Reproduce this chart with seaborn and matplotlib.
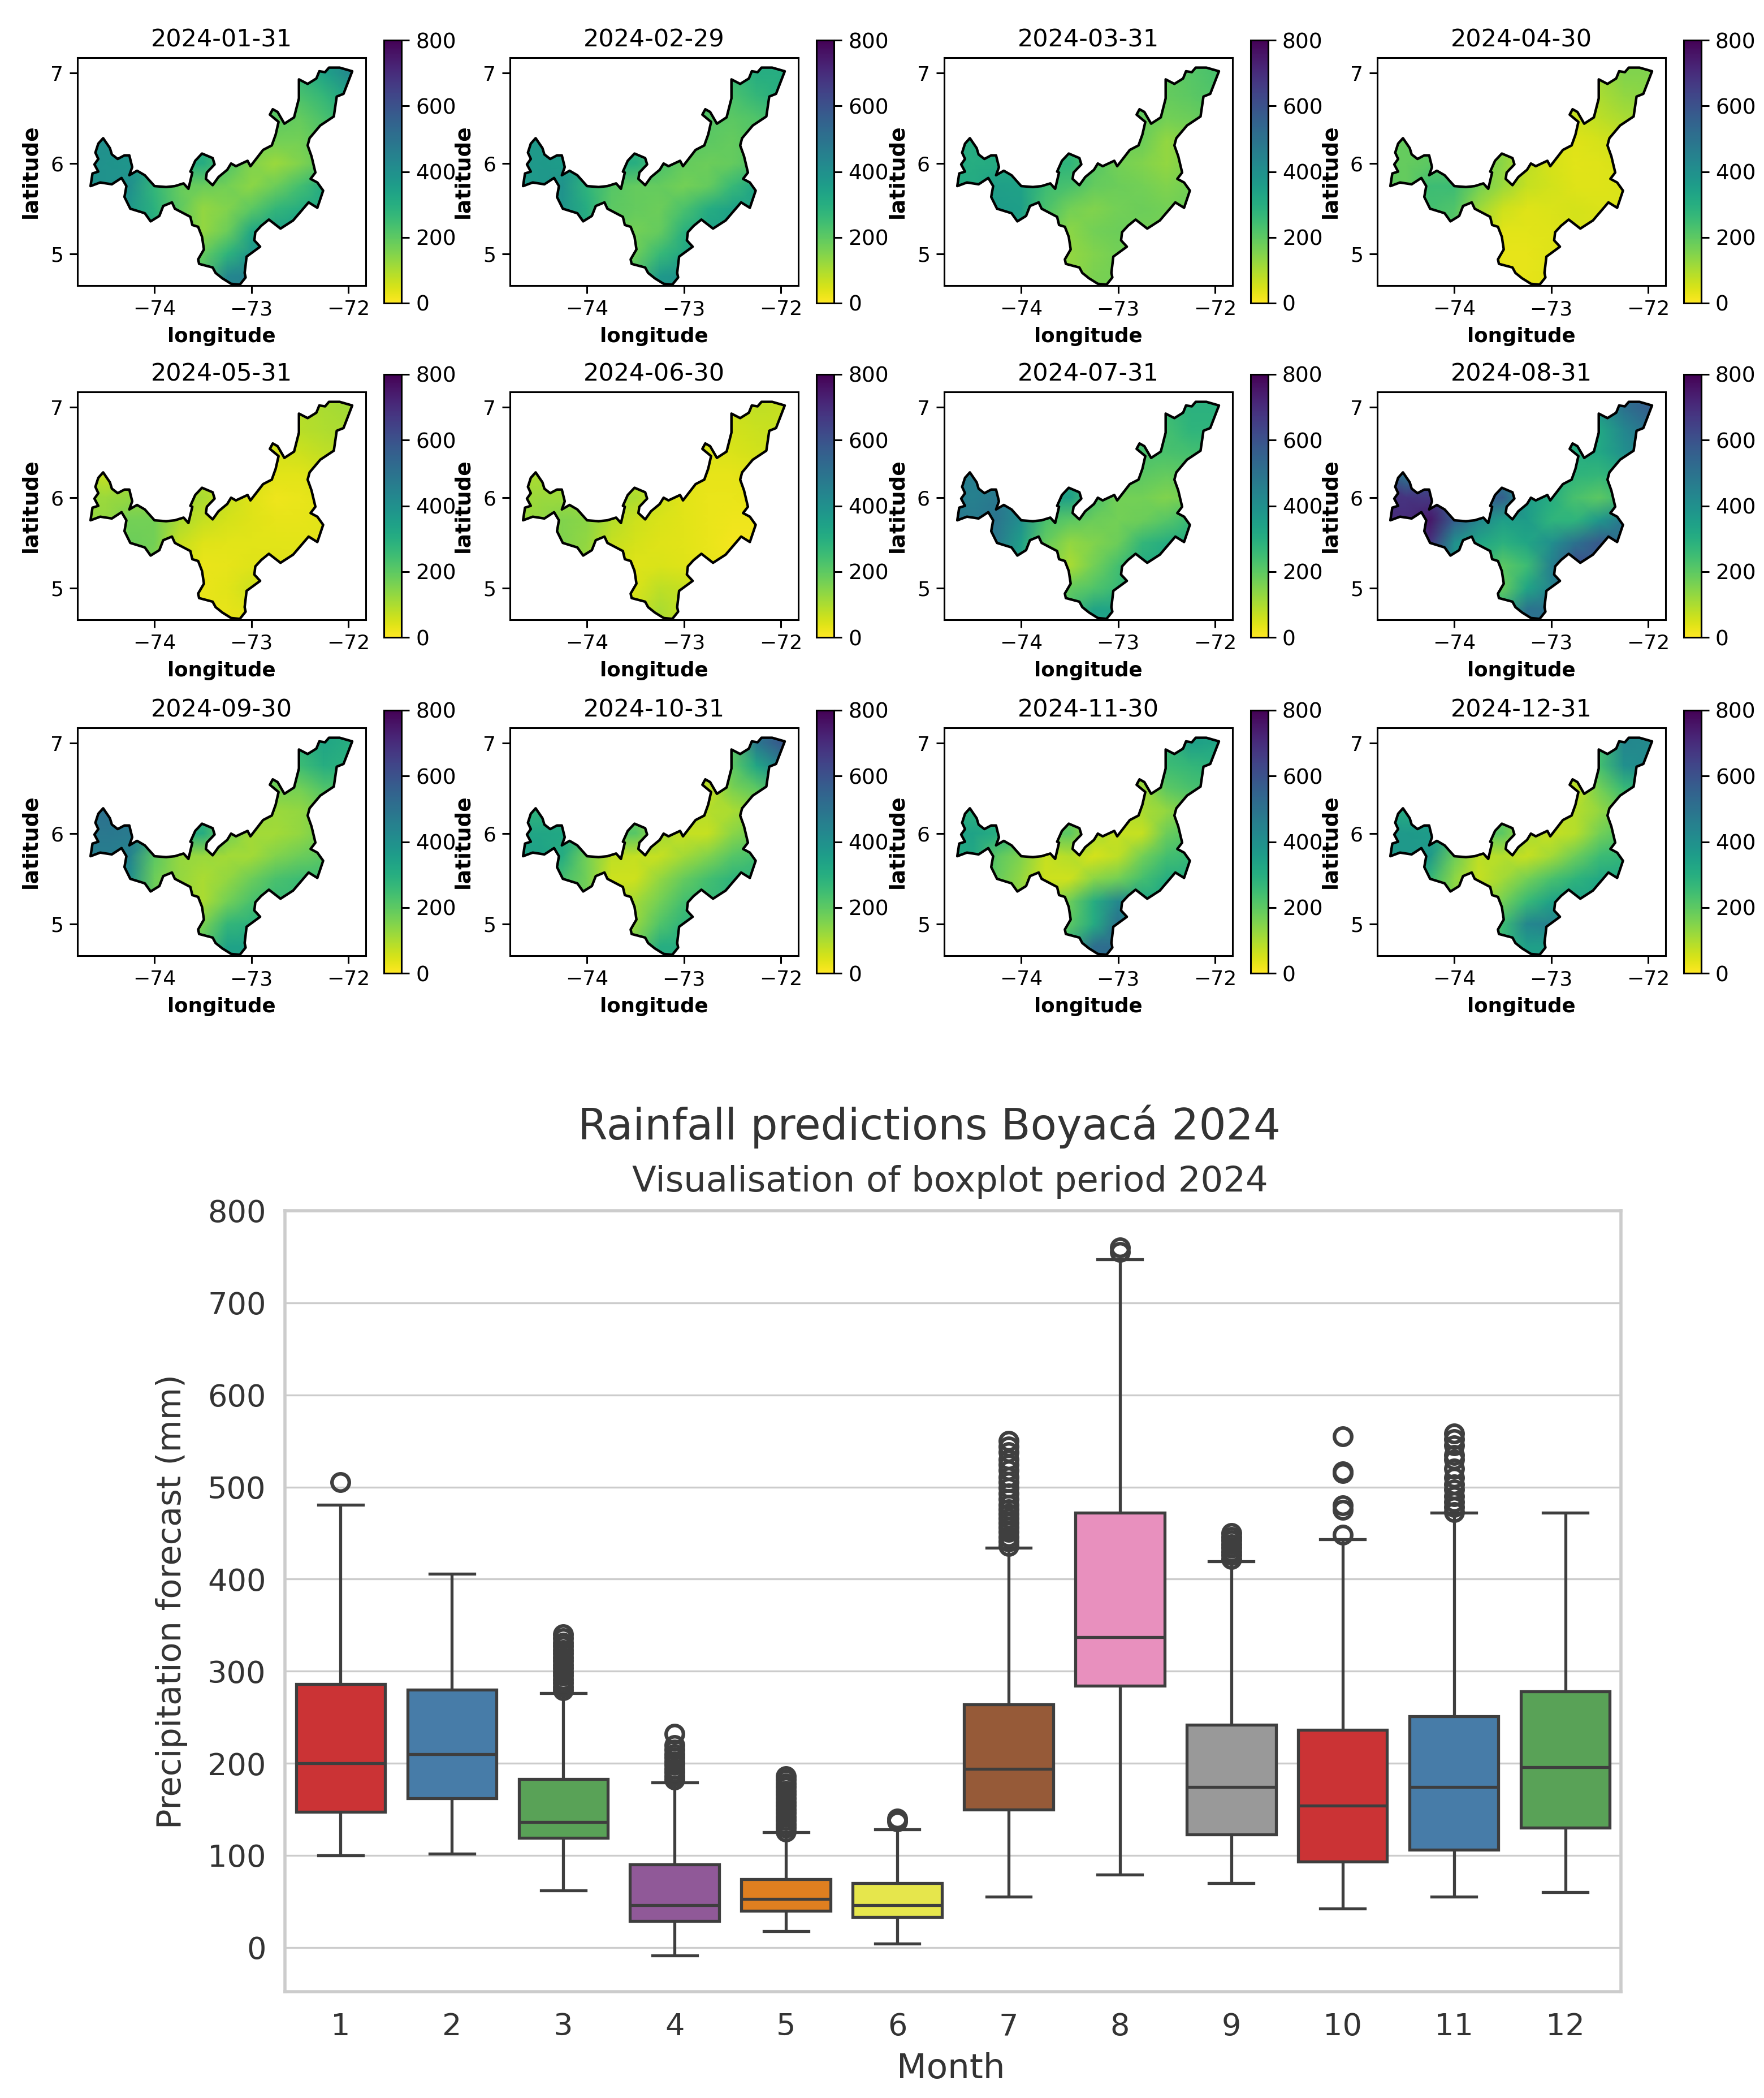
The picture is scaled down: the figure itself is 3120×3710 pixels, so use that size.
import numpy as np
import pandas as pd
import seaborn as sns
import matplotlib.pyplot as plt
from matplotlib.patches import Polygon

# Tamanho final em pixels
W, H = 3120, 3710

fechas = ['2024-01-31', '2024-02-29', '2024-03-31', '2024-04-30', '2024-05-31', '2024-06-30',
          '2024-07-31', '2024-08-31', '2024-09-30', '2024-10-31', '2024-11-30', '2024-12-31']

# Contorno de Boyaca
borde_lon = [-74.66, -74.64, -74.58, -74.62, -74.58, -74.61, -74.58, -74.53, -74.46, -74.44, -74.38, -74.31,
             -74.26, -74.23, -74.26, -74.18, -74.10, -74.00, -73.88, -73.79, -73.70, -73.65, -73.61, -73.63,
             -73.58, -73.51, -73.40, -73.38, -73.46, -73.47, -73.40, -73.34, -73.25, -73.21, -73.16, -73.04,
             -73.01, -72.88, -72.79, -72.75, -72.72, -72.81, -72.78, -72.73, -72.66, -72.56, -72.51, -72.51,
             -72.42, -72.33, -72.30, -72.24, -72.20, -72.09, -71.96, -72.05, -72.12, -72.15, -72.29, -72.40,
             -72.42, -72.38, -72.34, -72.39, -72.32, -72.26, -72.32, -72.41, -72.57, -72.70, -72.82, -72.90,
             -72.96, -72.97, -72.91, -73.05, -73.07, -73.06, -73.12, -73.21, -73.30, -73.37, -73.40, -73.54,
             -73.55, -73.49, -73.51, -73.55, -73.61, -73.63, -73.79, -73.82, -73.91, -73.95, -74.04, -74.10,
             -74.25, -74.31, -74.29, -74.34, -74.44, -74.56]
borde_lat = [5.75, 5.89, 5.91, 5.99, 6.05, 6.12, 6.22, 6.28, 6.17, 6.10, 6.05, 6.09,
             6.09, 5.96, 5.87, 5.92, 5.87, 5.75, 5.74, 5.75, 5.78, 5.72, 5.90, 5.91,
             6.03, 6.11, 6.06, 5.99, 5.90, 5.83, 5.76, 5.85, 5.93, 6.00, 5.97, 6.03,
             5.97, 6.15, 6.20, 6.32, 6.46, 6.54, 6.60, 6.57, 6.44, 6.51, 6.72, 6.93,
             6.88, 6.94, 7.02, 7.01, 7.06, 7.06, 7.02, 6.77, 6.74, 6.52, 6.42, 6.28,
             6.20, 6.08, 5.90, 5.83, 5.79, 5.70, 5.51, 5.57, 5.37, 5.28, 5.38, 5.31,
             5.24, 5.15, 5.08, 4.97, 4.79, 4.74, 4.66, 4.67, 4.73, 4.79, 4.85, 4.89,
             4.94, 5.05, 5.19, 5.30, 5.32, 5.41, 5.50, 5.57, 5.53, 5.42, 5.36, 5.45,
             5.50, 5.63, 5.75, 5.84, 5.77, 5.79]

lon_malla = [-74.75, -74.5, -74.25, -74.0, -73.75, -73.5, -73.25, -73.0, -72.75, -72.5, -72.25, -72.0]
lat_malla = [7.0, 6.75, 6.5, 6.25, 6.0, 5.75, 5.5, 5.25, 5.0, 4.75]

ene = [[380, 380, 380, 300, 250, 220, 220, 220, 230, 270, 340, 420],
       [390, 390, 380, 300, 250, 220, 220, 220, 220, 230, 270, 340],
       [400, 400, 380, 300, 250, 220, 210, 200, 200, 190, 230, 280],
       [400, 400, 390, 320, 280, 280, 220, 170, 170, 170, 200, 220],
       [400, 390, 380, 340, 300, 310, 220, 150, 120, 150, 200, 220],
       [400, 390, 400, 270, 190, 180, 170, 140, 180, 240, 310, 320],
       [400, 400, 370, 290, 200, 130, 150, 200, 270, 300, 320, 320],
       [380, 380, 350, 300, 200, 130, 180, 320, 350, 340, 330, 320],
       [380, 380, 350, 300, 200, 190, 280, 380, 360, 340, 330, 320],
       [380, 380, 350, 300, 200, 230, 430, 450, 360, 340, 330, 320]]
feb = [[360, 360, 360, 280, 250, 230, 230, 230, 230, 260, 300, 300],
       [370, 370, 360, 280, 250, 230, 230, 230, 230, 230, 270, 300],
       [370, 370, 360, 290, 250, 230, 230, 220, 210, 200, 220, 250],
       [370, 370, 370, 310, 280, 270, 240, 210, 200, 190, 210, 220],
       [370, 370, 360, 330, 300, 300, 230, 190, 180, 190, 220, 230],
       [370, 370, 390, 280, 210, 190, 190, 170, 190, 260, 330, 340],
       [370, 370, 380, 300, 200, 190, 180, 230, 300, 340, 340, 340],
       [370, 370, 350, 300, 200, 170, 190, 290, 340, 340, 340, 340],
       [370, 370, 350, 300, 200, 180, 260, 320, 340, 340, 340, 340],
       [370, 370, 350, 300, 200, 230, 370, 390, 340, 340, 340, 340]]
mar = [[300, 300, 300, 260, 230, 200, 200, 200, 200, 190, 210, 230],
       [300, 300, 300, 260, 230, 200, 200, 200, 200, 190, 200, 220],
       [300, 300, 300, 280, 240, 210, 200, 190, 190, 170, 180, 200],
       [300, 300, 310, 300, 260, 250, 210, 180, 180, 130, 150, 170],
       [310, 300, 310, 320, 280, 280, 210, 170, 150, 130, 160, 170],
       [310, 310, 350, 340, 250, 230, 190, 180, 170, 150, 170, 180],
       [310, 310, 360, 350, 230, 170, 150, 170, 180, 170, 180, 180],
       [310, 310, 340, 320, 200, 140, 170, 180, 170, 170, 180, 180],
       [310, 310, 340, 320, 200, 130, 150, 170, 170, 170, 180, 180],
       [310, 310, 340, 320, 200, 130, 160, 170, 170, 170, 180, 180]]
abr = [[180, 180, 180, 160, 130, 100, 100, 100, 110, 110, 150, 150],
       [180, 180, 180, 160, 130, 100, 100, 100, 100, 100, 130, 140],
       [190, 190, 190, 170, 130, 110, 90, 80, 60, 80, 100, 110],
       [190, 190, 190, 190, 150, 130, 90, 50, 40, 50, 60, 70],
       [190, 190, 200, 200, 170, 140, 80, 50, 35, 40, 50, 60],
       [200, 190, 250, 250, 170, 120, 70, 55, 40, 40, 45, 50],
       [200, 200, 240, 220, 120, 60, 40, 45, 50, 45, 45, 50],
       [200, 200, 220, 200, 100, 35, 35, 40, 50, 45, 45, 50],
       [200, 200, 220, 200, 100, 30, 30, 40, 50, 45, 45, 50],
       [200, 200, 220, 200, 100, 30, 30, 40, 50, 45, 45, 50]]
may = [[110, 110, 110, 100, 80, 70, 70, 70, 80, 90, 100, 110],
       [110, 110, 110, 100, 80, 70, 70, 70, 70, 85, 95, 100],
       [110, 110, 110, 100, 80, 70, 60, 60, 50, 60, 75, 85],
       [90, 70, 110, 110, 90, 80, 60, 50, 35, 35, 50, 60],
       [120, 120, 130, 130, 110, 100, 70, 40, 20, 25, 40, 50],
       [120, 130, 170, 170, 100, 70, 50, 40, 30, 30, 35, 40],
       [130, 140, 180, 170, 70, 40, 35, 35, 35, 35, 35, 40],
       [130, 140, 170, 150, 60, 25, 30, 40, 40, 40, 40, 40],
       [130, 140, 170, 150, 60, 25, 35, 60, 40, 40, 40, 40],
       [130, 140, 170, 150, 60, 30, 30, 40, 40, 40, 40, 40]]
jun = [[90, 90, 90, 80, 70, 60, 60, 60, 60, 65, 75, 70],
       [90, 90, 90, 80, 70, 60, 60, 60, 60, 55, 65, 70],
       [90, 90, 90, 90, 70, 60, 55, 50, 45, 45, 55, 60],
       [100, 100, 100, 100, 80, 70, 50, 40, 30, 30, 40, 45],
       [110, 120, 120, 120, 100, 100, 60, 35, 25, 25, 30, 35],
       [120, 130, 150, 140, 90, 60, 45, 35, 25, 20, 20, 25],
       [120, 130, 150, 130, 70, 50, 40, 35, 25, 15, 15, 20],
       [120, 130, 150, 120, 60, 40, 45, 40, 30, 20, 20, 20],
       [120, 130, 150, 120, 60, 45, 80, 70, 30, 20, 20, 20],
       [120, 130, 150, 120, 60, 60, 100, 70, 30, 20, 20, 20]]
jul = [[430, 430, 430, 330, 280, 250, 250, 250, 260, 260, 290, 290],
       [430, 430, 430, 330, 280, 250, 250, 250, 250, 240, 280, 280],
       [440, 440, 430, 340, 290, 260, 250, 240, 230, 230, 240, 250],
       [450, 460, 450, 380, 320, 300, 250, 210, 200, 190, 200, 220],
       [470, 450, 480, 410, 340, 350, 230, 170, 170, 150, 170, 200],
       [480, 470, 490, 400, 230, 200, 180, 170, 180, 210, 260, 270],
       [480, 480, 470, 350, 190, 130, 150, 180, 270, 300, 310, 310],
       [480, 480, 460, 330, 170, 100, 170, 240, 310, 320, 320, 320],
       [480, 480, 460, 330, 170, 190, 220, 260, 310, 320, 320, 320],
       [480, 480, 460, 330, 170, 240, 340, 340, 310, 320, 320, 320]]
ago = [[650, 650, 600, 450, 350, 300, 300, 300, 320, 400, 500, 560],
       [650, 650, 600, 450, 350, 300, 300, 300, 310, 320, 430, 500],
       [650, 640, 600, 470, 380, 320, 300, 300, 300, 320, 400, 450],
       [680, 480, 600, 520, 450, 420, 340, 300, 280, 270, 300, 320],
       [690, 680, 670, 600, 560, 560, 360, 300, 230, 200, 260, 300],
       [700, 700, 750, 560, 430, 350, 360, 280, 280, 380, 480, 480],
       [700, 700, 680, 400, 330, 290, 330, 400, 500, 580, 500, 480],
       [680, 680, 640, 380, 300, 200, 250, 450, 620, 560, 500, 480],
       [680, 680, 640, 380, 300, 190, 330, 440, 540, 500, 480, 480],
       [680, 680, 640, 380, 300, 300, 500, 500, 500, 480, 480, 480]]
sep = [[480, 480, 450, 300, 230, 200, 200, 200, 220, 280, 330, 300],
       [480, 480, 450, 300, 230, 200, 200, 200, 210, 250, 300, 290],
       [480, 480, 450, 310, 240, 200, 190, 180, 170, 170, 220, 240],
       [490, 500, 460, 340, 260, 250, 180, 140, 120, 130, 160, 180],
       [480, 480, 470, 380, 300, 310, 170, 110, 110, 130, 170, 190],
       [450, 460, 440, 200, 130, 120, 110, 110, 150, 180, 200, 210],
       [450, 460, 400, 180, 130, 100, 130, 180, 230, 250, 250, 250],
       [430, 430, 380, 180, 120, 100, 170, 230, 260, 250, 250, 250],
       [430, 430, 380, 180, 120, 160, 270, 290, 260, 250, 250, 250],
       [430, 430, 380, 180, 120, 220, 340, 340, 260, 250, 250, 250]]
oct_ = [[300, 300, 290, 230, 170, 130, 130, 130, 140, 200, 480, 580],
        [300, 300, 290, 230, 170, 130, 130, 130, 140, 200, 330, 450],
        [300, 300, 290, 230, 170, 130, 110, 90, 70, 160, 200, 280],
        [280, 280, 290, 240, 190, 180, 110, 90, 90, 100, 130, 170],
        [330, 330, 320, 280, 210, 210, 110, 70, 70, 140, 180, 200],
        [330, 340, 300, 170, 80, 70, 70, 110, 150, 210, 240, 250],
        [320, 320, 240, 170, 60, 60, 130, 190, 240, 280, 280, 280],
        [310, 310, 220, 170, 70, 110, 170, 240, 260, 280, 280, 280],
        [310, 310, 220, 170, 90, 130, 220, 280, 260, 280, 280, 280],
        [310, 310, 220, 170, 100, 180, 300, 300, 260, 280, 280, 280]]
nov = [[320, 320, 290, 220, 170, 130, 130, 130, 170, 250, 350, 330],
       [320, 320, 290, 220, 170, 130, 130, 130, 170, 250, 270, 290],
       [320, 320, 290, 230, 170, 140, 130, 110, 110, 200, 230, 240],
       [300, 290, 280, 240, 190, 170, 110, 90, 100, 130, 170, 190],
       [320, 340, 300, 260, 200, 200, 100, 70, 70, 180, 220, 240],
       [310, 320, 200, 150, 70, 90, 50, 80, 170, 240, 260, 270],
       [300, 300, 190, 130, 60, 60, 140, 170, 240, 300, 300, 300],
       [300, 300, 190, 130, 90, 180, 300, 430, 330, 300, 300, 300],
       [300, 300, 190, 130, 100, 200, 310, 500, 340, 300, 300, 300],
       [300, 300, 190, 130, 100, 300, 510, 520, 340, 300, 300, 300]]
dic = [[360, 360, 330, 240, 170, 130, 130, 130, 150, 240, 430, 420],
       [360, 360, 330, 240, 170, 130, 130, 130, 150, 240, 400, 420],
       [360, 360, 330, 250, 170, 130, 120, 90, 70, 170, 260, 300],
       [340, 300, 340, 270, 200, 180, 120, 80, 90, 130, 170, 200],
       [370, 370, 360, 300, 210, 200, 100, 70, 90, 170, 220, 240],
       [370, 370, 370, 180, 80, 90, 70, 110, 180, 250, 270, 280],
       [370, 370, 270, 140, 70, 110, 170, 230, 280, 320, 320, 320],
       [360, 360, 260, 140, 100, 170, 260, 340, 350, 320, 320, 320],
       [360, 360, 260, 140, 120, 250, 430, 450, 350, 320, 320, 320],
       [360, 360, 260, 140, 120, 280, 350, 350, 350, 320, 320, 320]]
mapas = [ene, feb, mar, abr, may, jun, jul, ago, sep, oct_, nov, dic]

# Cajas: minimo, q1, mediana, q3, maximo
meses = [1, 2, 3, 4, 5, 6, 7, 8, 9, 10, 11, 12]
minimo = [100, 102, 62, -9, 18, 4, 55, 79, 70, 42, 55, 60]
q1 = [147.5, 162, 119, 29, 40, 33, 150, 284, 123, 93, 106, 130]
mediana = [200, 210, 136, 46, 53, 46, 194, 337, 174, 154, 174, 196]
q3 = [286, 280, 183, 90, 74, 70, 264, 472, 242, 236, 251, 278]
maximo = [481, 406, 276, 179, 125, 128, 434, 747, 419, 443, 472, 472]

atipicos = {
    1: [505],
    3: [279, 283, 287, 291, 295, 299, 303, 307, 311, 315, 319, 323, 327, 331, 336, 340],
    4: [182, 186, 190, 194, 198, 202, 206, 210, 215, 220, 232],
    5: [126, 130, 134, 138, 142, 146, 150, 154, 158, 162, 166, 170, 174, 178, 182, 186],
    6: [137, 140],
    7: [436, 441, 446, 451, 456, 461, 466, 471, 476, 481, 487, 493, 499, 505, 511, 518, 524, 530, 538, 544, 550],
    8: [755, 760],
    9: [422, 426, 430, 434, 438, 442, 446, 450],
    10: [448, 475, 480, 515, 517, 555],
    11: [473, 478, 484, 490, 497, 503, 510, 520, 530, 535, 545, 552, 558],
}


def caja(x, y, w, h):
    # convierte pixeles (desde arriba) a fraccion de la figura
    return [x / W, 1 - (y + h) / H, w / W, h / H]


fig = plt.figure(figsize=(W / 100, H / 100), dpi=100, facecolor='white')

col_x = [137, 902, 1670, 2436]
fila_y = [102, 693, 1287]
lon_ext = np.r_[-75.0, lon_malla, -71.75]
lat_ext = np.r_[7.25, lat_malla, 4.5]

for i, fecha in enumerate(fechas):
    x0 = col_x[i % 4]
    y0 = fila_y[i // 4]
    ax = fig.add_axes(caja(x0, y0, 510, 403))
    z = np.pad(np.array(mapas[i], dtype=float), 1, mode='edge')
    malla = ax.pcolormesh(lon_ext, lat_ext, z, cmap='viridis_r', vmin=0, vmax=800, shading='gouraud')
    recorte = Polygon(np.column_stack([borde_lon, borde_lat]), closed=True, transform=ax.transData,
                      facecolor='none', edgecolor='black', linewidth=3.2, joinstyle='round')
    ax.add_patch(recorte)
    malla.set_clip_path(recorte)
    ax.set_xlim(-74.795, -71.82)
    ax.set_ylim(4.65, 7.17)
    ax.set_xticks([-74, -73, -72])
    ax.set_yticks([5, 6, 7])
    ax.tick_params(labelsize=26, length=10, width=2.2, pad=8)
    for lado in ax.spines.values():
        lado.set_linewidth(2.2)
    ax.set_title(fecha, fontsize=31, pad=14)
    ax.set_xlabel('longitude', fontsize=25.6, fontweight='bold', labelpad=10)
    ax.set_ylabel('latitude', fontsize=27, fontweight='bold', labelpad=12)
    cax = fig.add_axes(caja(x0 + 542, y0 - 31, 31, 465))
    cb = fig.colorbar(malla, cax=cax, ticks=[0, 200, 400, 600, 800])
    cb.ax.tick_params(labelsize=27, length=10, width=2.2, pad=8)
    cb.outline.set_linewidth(2.2)

# Boxplot inferior
tabla = pd.DataFrame({'mes': np.repeat(meses, 5),
                      'valor': np.column_stack([minimo, q1, mediana, q3, maximo]).ravel()})
colores = (sns.color_palette('Set1', 9) + sns.color_palette('Set1', 3))

with sns.axes_style('whitegrid'):
    ax_box = fig.add_axes(caja(504, 2141, 2363, 1381))
sns.boxplot(data=tabla, x='mes', y='valor', hue='mes', palette=colores, legend=False, whis=(0, 100),
            width=0.8, linewidth=3.8, ax=ax_box)
for k, mes in enumerate(meses):
    vals = atipicos.get(mes, [])
    ax_box.plot([k] * len(vals), vals, 'o', mfc='none', mec='#3f3f3f', ms=22, mew=4.6, zorder=4)

ax_box.set_xlim(-0.5, 11.5)
ax_box.set_ylim(-48, 800)
ax_box.set_yticks(range(0, 801, 100))
ax_box.grid(axis='y', color='#cccccc', linewidth=2.4)
ax_box.set_axisbelow(True)
for lado in ax_box.spines.values():
    lado.set_color('#cccccc')
    lado.set_linewidth(4)
ax_box.tick_params(labelsize=39, colors='#333333', length=0)
ax_box.tick_params(axis='y', pad=24)
ax_box.tick_params(axis='x', pad=26)
ax_box.set_xlabel('')
ax_box.set_ylabel('')

fig.text(304 / W, 1 - 2832 / H, 'Precipitation forecast (mm)', rotation=90, ha='center', va='center',
         fontsize=42.4, color='#333333')
fig.text(1682 / W, 1 - 3658 / H, 'Month', ha='center', va='center', fontsize=44, color='#333333')
fig.text(1644 / W, 1 - 1992 / H, 'Rainfall predictions Boyacá 2024', ha='center', va='center',
         fontsize=54.5, color='#333333')
fig.text(1680 / W, 1 - 2090 / H, 'Visualisation of boxplot period 2024', ha='center', va='center',
         fontsize=45, color='#333333')

fig.savefig('out.png', dpi=100)
